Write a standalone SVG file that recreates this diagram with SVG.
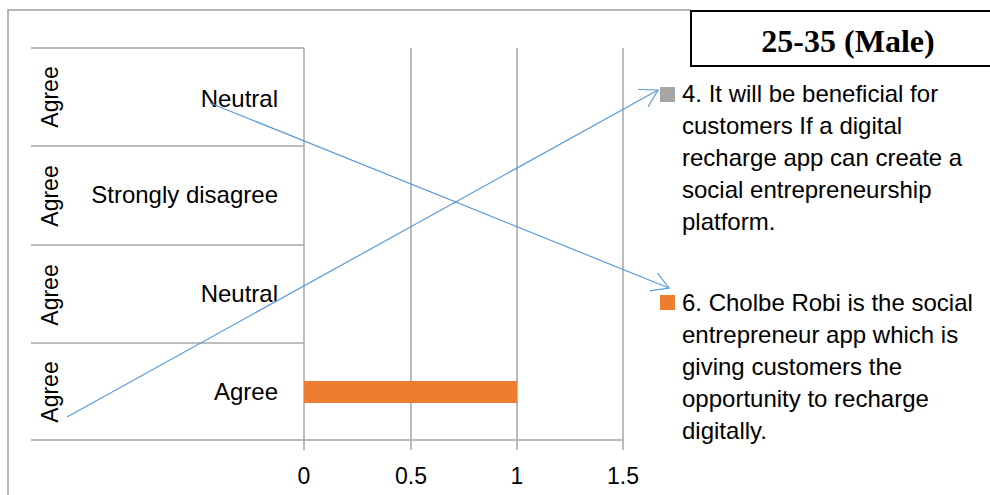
<svg xmlns="http://www.w3.org/2000/svg" width="990" height="495" viewBox="0 0 990 495">
<style>
.frame{fill:none;stroke:#A0A0A0;stroke-width:1.5}
.grid{stroke:#A6A6A6;stroke-width:1.5;fill:none}
.lbl{font-family:"Liberation Sans",Arial,sans-serif;font-size:24px;fill:#000}
.rot{font-family:"Liberation Sans",Arial,sans-serif;font-size:23px;fill:#000;text-anchor:middle}
.tick{font-family:"Liberation Sans",Arial,sans-serif;font-size:23px;fill:#000;text-anchor:middle}
.leg{font-family:"Liberation Sans",Arial,sans-serif;font-size:24px;fill:#000}
.conn{stroke:#5B9BD5;stroke-width:1.2;fill:none}
</style>
<defs>
<marker id="open" markerUnits="userSpaceOnUse" markerWidth="22" markerHeight="22" refX="17" refY="10" orient="auto" viewBox="0 0 22 22">
<path d="M0,0 L17,10 L0,20" fill="none" stroke="#5B9BD5" stroke-width="1.2"/>
</marker>
</defs>
<rect x="0" y="0" width="990" height="495" fill="#fff"/>
<g id="frame">
<path class="frame" d="M8,495 L8,10 L691,10"/>
</g>
<g id="plot">
<path class="grid" d="M31,48 H304 M31,146 H304 M31,245 H304 M31,343 H304 M31,440 H623"/>
<path class="grid" d="M304,48 V450 M411,48 V450 M517,48 V450 M623,48 V450"/>
</g>
<g id="bar">
<rect x="304" y="381" width="213" height="22" fill="#ED7D31"/>
</g>
<g id="row1">
<text class="rot" transform="translate(58,97) rotate(-90)">Agree</text>
<text class="lbl" x="278" y="107" text-anchor="end">Neutral</text>
</g>
<g id="row2">
<text class="rot" transform="translate(58,196) rotate(-90)">Agree</text>
<text class="lbl" x="278" y="203" text-anchor="end">Strongly disagree</text>
</g>
<g id="row3">
<text class="rot" transform="translate(58,295) rotate(-90)">Agree</text>
<text class="lbl" x="278" y="302" text-anchor="end">Neutral</text>
</g>
<g id="row4">
<text class="rot" transform="translate(58,392) rotate(-90)">Agree</text>
<text class="lbl" x="278" y="400" text-anchor="end">Agree</text>
</g>
<g id="axis-labels">
<text class="tick" x="304" y="484">0</text>
<text class="tick" x="411" y="484">0.5</text>
<text class="tick" x="517" y="484">1</text>
<text class="tick" x="623" y="484">1.5</text>
</g>
<g id="title">
<rect x="691" y="11" width="310" height="55" fill="#fff" stroke="#000" stroke-width="2"/>
<text x="848" y="52" font-family="'Liberation Serif','Times New Roman',serif" font-size="32" font-weight="bold" text-anchor="middle">25-35 (Male)</text>
</g>
<g id="legend4">
<rect x="660" y="87" width="15" height="15" fill="#A5A5A5"/>
<text class="leg" x="682" y="102">4. It will be beneficial for</text>
<text class="leg" x="682" y="134">customers If a digital</text>
<text class="leg" x="682" y="166">recharge app can create a</text>
<text class="leg" x="682" y="198">social entrepreneurship</text>
<text class="leg" x="682" y="230">platform.</text>
</g>
<g id="legend6">
<rect x="660" y="295" width="15" height="15" fill="#ED7D31"/>
<text class="leg" x="682" y="311">6. Cholbe Robi is the social</text>
<text class="leg" x="682" y="343">entrepreneur app which is</text>
<text class="leg" x="682" y="375">giving customers the</text>
<text class="leg" x="682" y="407">opportunity to recharge</text>
<text class="leg" x="682" y="439">digitally.</text>
</g>
<g id="connectors">
<line class="conn" x1="67" y1="417" x2="658" y2="90" marker-end="url(#open)"/>
<line class="conn" x1="210" y1="103" x2="669" y2="288" marker-end="url(#open)"/>
</g>
</svg>
